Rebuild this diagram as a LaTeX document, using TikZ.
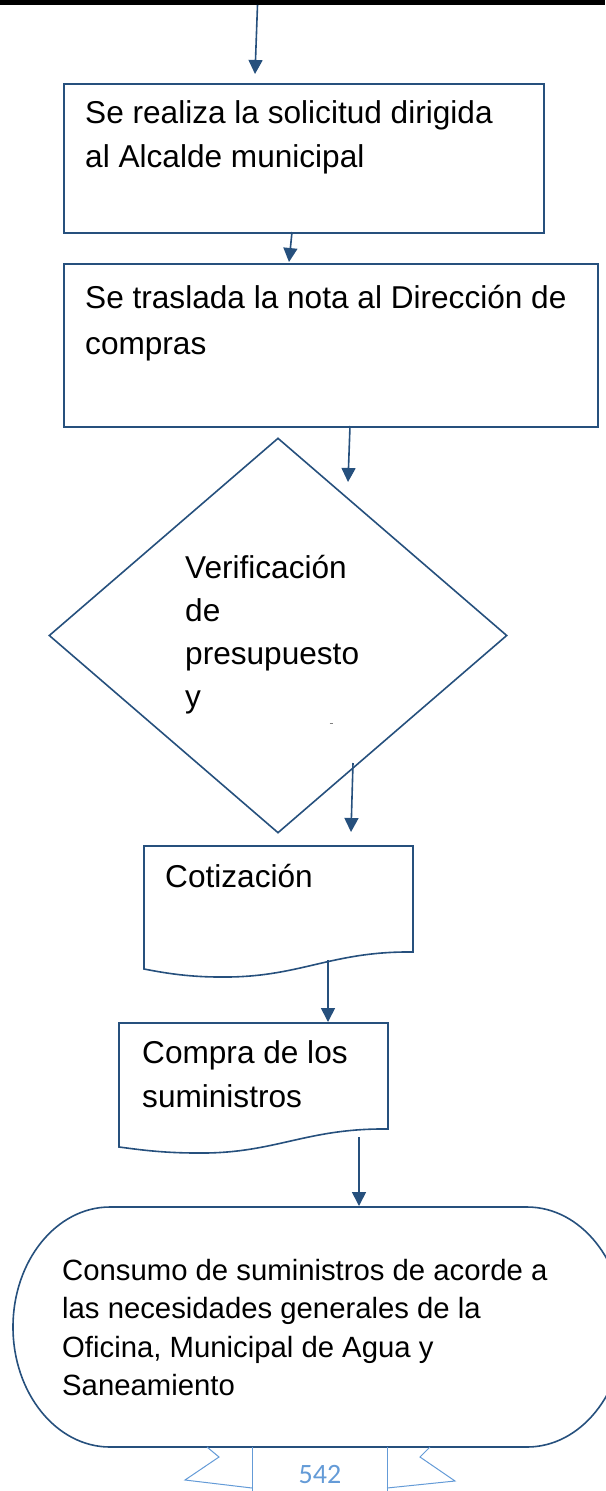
\documentclass[tikz,border=0pt]{standalone}
\usepackage{fontspec}
\setmainfont{Liberation Sans}
\newfontfamily\pagefont{Carlito}
\usetikzlibrary{shapes.geometric, arrows.meta}

\definecolor{flowblue}{RGB}{38,80,125}
\definecolor{pageblue}{RGB}{100,155,215}

\begin{document}
\begin{tikzpicture}[x=1pt, y=-1pt, >={Triangle[width=14pt, length=14pt]},
    box/.style={draw=flowblue, line width=1.6pt, anchor=north west, inner sep=0pt},
    decision/.style={diamond, draw=flowblue, line width=1.6pt, inner sep=0pt},
    txt/.style={anchor=base west, align=left, inner sep=0pt,
        font=\fontsize{31.6}{44}\selectfont},
    flow/.style={->, draw=flowblue, line width=1.6pt, fill=flowblue}]
    \useasboundingbox (0,0) rectangle (605,1491);

    % top rule of the page
    \draw[line width=5pt] (0,2.5) -- (605,2.5);

    % process boxes (text nodes sit on the baseline of their last line)
    \node[box, minimum width=480pt, minimum height=149pt] (solicitud) at (63,83) {};
    \node[txt] (solicitudtxt) at (85,167) {Se realiza la solicitud dirigida\\al Alcalde municipal};

    \node[box, minimum width=534pt, minimum height=163pt] (traslado) at (63,263) {};
    \node[txt, font=\fontsize{31.6}{46}\selectfont] (trasladotxt) at (85,354)
        {Se traslada la nota al Dirección de\\compras};

    % decision
    \node[decision, minimum width=458pt, minimum height=395pt] (presupuesto) at (278,635.5) {};
    \node[txt, font=\fontsize{31.6}{43}\selectfont] (presupuestotxt) at (185,707)
        {Verificación\\de\\presupuesto\\y};
    \draw[gray, line width=0.6pt] (329.5,723) -- (332.5,723);

    % documents
    \draw[flowblue, line width=1.6pt] (144,846) -- (413,846) -- (413,952)
        .. controls (330,951) and (300,978) .. (220,977)
        .. controls (185,977) and (160,972) .. (144,969) -- cycle;
    \node[txt] (cotizacion) at (165,887) {Cotización};

    \draw[flowblue, line width=1.6pt] (119,1023) -- (388,1023) -- (388,1129)
        .. controls (305,1128) and (275,1154) .. (197,1153)
        .. controls (160,1153) and (135,1149) .. (119,1147) -- cycle;
    \node[txt] (compra) at (142,1107) {Compra de los\\suministros};

    % terminator
    \draw[flowblue, line width=1.6pt] (110,1207) -- (527,1207)
        arc[start angle=-90, end angle=90, x radius=97, y radius=120]
        -- (110,1447)
        arc[start angle=90, end angle=270, x radius=97, y radius=120] -- cycle;
    \node[txt, font=\fontsize{29.3}{38.5}\selectfont] (consumo) at (62,1395.5)
        {Consumo de suministros de acorde a\\las necesidades generales de la\\Oficina, Municipal de Agua y\\Saneamiento};

    % connectors
    \coordinate (a1) at (257.5,5);  \coordinate (b1) at (255,74);
    \coordinate (a2) at (292,232);  \coordinate (b2) at (289,262);
    \coordinate (a3) at (350,426);  \coordinate (b3) at (348,482);
    \coordinate (a4) at (353,763);  \coordinate (b4) at (351,832);
    \coordinate (a5) at (328,960);  \coordinate (b5) at (328,1022);
    \coordinate (a6) at (359,1137); \coordinate (b6) at (359,1206);
    \foreach \s/\e in {a1/b1, a2/b2, a3/b3, a4/b4, a5/b5, a6/b6}
        \draw[flow] (\s) -- (\e);

    % page number ribbon
    \draw[pageblue, line width=1pt] (252,1447) -- (252,1491) (387,1447) -- (387,1491);
    \draw[pageblue, line width=1pt] (207,1447) -- (219,1457) -- (185,1480) -- (252,1488);
    \draw[pageblue, line width=1pt] (430,1447) -- (420,1457) -- (455,1481) -- (387,1488);
    \node[pageblue, font=\pagefont\fontsize{28}{30}\selectfont] (pagina) at (320,1474) {542};
\end{tikzpicture}
\end{document}
